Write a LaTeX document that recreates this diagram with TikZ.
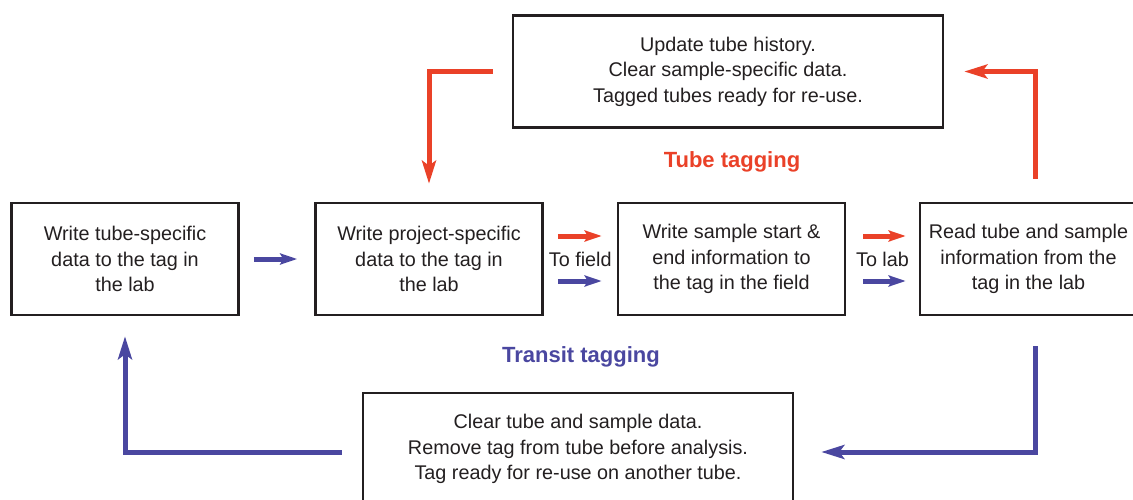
\documentclass[tikz,border=0pt]{standalone}
\usepackage{fontspec}
\setmainfont{Liberation Sans}
\usetikzlibrary{arrows.meta,calc}
\definecolor{tagred}{HTML}{EA4128}
\definecolor{tagblue}{HTML}{4A47A0}
\definecolor{ink}{HTML}{231F20}
\begin{document}
\begin{tikzpicture}[x=1pt,y=-1pt,
  box/.style={draw=ink,line width=2.6pt,text=ink,align=center,inner sep=0pt,
    font=\fontsize{19.8}{25.5}\selectfont},
  smallbox/.style={box,minimum width=227pt,minimum height=112pt},
  widebox/.style={box,minimum width=430pt,minimum height=112pt},
  lbl/.style={text=ink,font=\fontsize{19.8}{25.5}\selectfont,inner sep=0pt},
  bigred/.style={draw=tagred,line width=5pt,-{Stealth[length=23pt,width=14pt,inset=5pt]}},
  bigblue/.style={draw=tagblue,line width=5pt,-{Stealth[length=23pt,width=14pt,inset=5pt]}},
  smred/.style={draw=tagred,line width=5pt,-{Stealth[length=17pt,width=11pt,inset=3pt]}},
  smblue/.style={draw=tagblue,line width=5pt,-{Stealth[length=17pt,width=11pt,inset=3pt]}},
  title/.style={font=\fontsize{22}{25}\selectfont\bfseries,inner sep=0pt}]
\useasboundingbox (0,0) rectangle (1133,500);
\node[smallbox] (b1) at (125,259) {Write tube-specific\\data to the tag in\\the lab};
\node[smallbox] (b2) at (429,259) {Write project-specific\\data to the tag in\\the lab};
\node[smallbox] (b3) at (731.5,259) {Write sample start \&\\end information to\\the tag in the field};
\node[smallbox] (b4) at (1033.5,259) {\hspace*{-10pt}Read tube and sample\\\hspace*{-10pt}information from the\\\hspace*{-10pt}tag in the lab};
\node[widebox] (top) at (728,71.5) {Update tube history.\\Clear sample-specific data.\\Tagged tubes ready for re-use.};
\node[widebox] (bot) at (578,449) {Clear tube and sample data.\\Remove tag from tube before analysis.\\Tag ready for re-use on another tube.};
\node[title,text=tagred] (tt) at (732,162) {Tube tagging};
\node[title,text=tagblue] (tr) at (581,357) {Transit tagging};
\node[lbl] (tofield) at ($(b2.east)!0.5!(b3.west)$) {To field};
\node[lbl] (tolab) at ($(b3.east)!0.5!(b4.west)$) {To lab};
% straight arrows
\draw[smblue] ($(b1.east)+(14,0)$) -- ($(b2.west)+(-17,0)$);
\draw[smred] ($(b2.east)+(14,-23)$) -- ($(b3.west)+(-15,-23)$);
\draw[smblue] ($(b2.east)+(14,22)$) -- ($(b3.west)+(-15,22)$);
\draw[smred] ($(b3.east)+(17,-23)$) -- ($(b4.west)+(-13,-23)$);
\draw[smblue] ($(b3.east)+(17,22)$) -- ($(b4.west)+(-13,22)$);
% loop arrows
\draw[bigred] ($(top.west)+(-19,0)$) -| ($(b2.north)+(0,-18)$);
\draw[bigred] ($(b4.north)+(1.5,-23)$) |- ($(top.east)+(20,0)$);
\draw[bigblue] ($(b4.south)+(1.5,30)$) |- ($(bot.east)+(27,3)$);
\draw[bigblue] ($(bot.west)+(-20,3)$) -| ($(b1.south)+(0,20)$);
\end{tikzpicture}
\end{document}
